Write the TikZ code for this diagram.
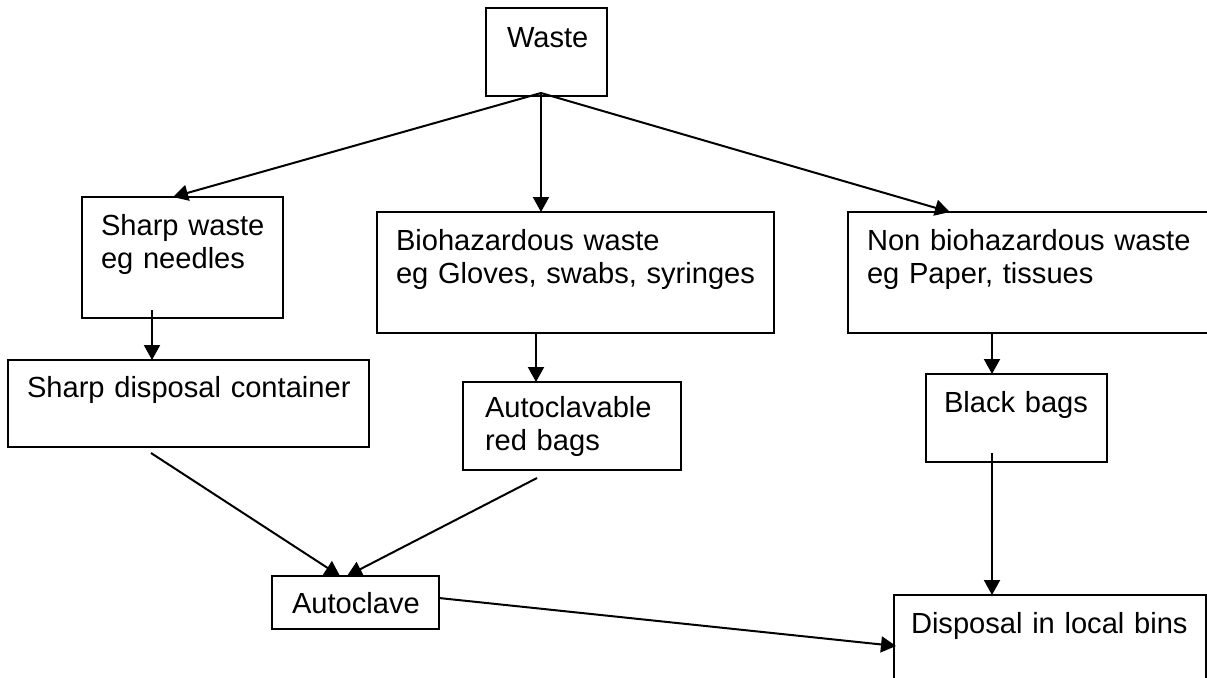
\documentclass[tikz,border=0pt]{standalone}
\usepackage{fontspec}
\setmainfont{Liberation Sans}
\usetikzlibrary{arrows.meta,fit,calc}
\tikzset{
  box/.style={draw, line width=1pt, rectangle, inner sep=0pt, outer sep=0pt},
  lbl/.style={anchor=base west, inner sep=0pt, outer sep=0pt, text width=200pt, align=left,
    font=\fontsize{14.55pt}{16.5pt}\selectfont},
  arr/.style={line width=1pt, -{Triangle[length=7.5pt,width=8pt]}},
}
\begin{document}
\begin{tikzpicture}[x=0.5pt,y=-0.5pt]
\clip (0,0) rectangle (1207,677);

% boxes
\node[box, fit={(486,8) (607,96)}]     (waste)     {};
\node[box, fit={(82,197) (283,318)}]   (sharp)     {};
\node[box, fit={(377,212) (774,333)}]  (bio)       {};
\node[box, fit={(848,212) (1220,333)}] (nonbio)    {};
\node[box, fit={(8,360) (369,447)}]    (sharpdisp) {};
\node[box, fit={(463,382) (681,470)}]  (redbags)   {};
\node[box, fit={(926,374) (1107,462)}] (blackbags) {};
\node[box, fit={(272,576) (439,629)}]  (autoclave) {};
\node[box, fit={(894,595) (1206,700)}] (disposal)  {};

% texts
\node[lbl] (waste-t)     at (507,47)  {Waste};
\node[lbl] (sharp-t)     at (101,235) {Sharp waste\\eg needles};
\node[lbl] (bio-t)       at (396,250) {Biohazardous waste\\eg Gloves, swabs, syringes};
\node[lbl] (nonbio-t)    at (867,250) {Non biohazardous waste\\eg Paper, tissues};
\node[lbl] (sharpdisp-t) at (27,397)  {Sharp disposal container};
\node[lbl] (redbags-t)   at (485,417) {Autoclavable\\red bags};
\node[lbl] (blackbags-t) at (944,412) {Black bags};
\node[lbl] (autoclave-t) at (292,613) {Autoclave};
\node[lbl] (disposal-t)  at (911,633) {Disposal in local bins};

% connectors
\coordinate (waste-out) at ($(waste.south west)+(55,-3)$);
\draw[arr] (waste-out) -- ($(sharp.north west)+(91,0)$);
\draw[arr] (waste-out) -- ($(bio.north west)+(164,0)$);
\draw[arr] (waste-out) -- ($(nonbio.north west)+(102,0)$);
\draw[arr] ($(sharp.south west)+(70,-8)$) -- ($(sharpdisp.north west)+(144,0)$);
\draw[arr] ($(bio.south west)+(159,0)$) -- ($(redbags.north west)+(73,0)$);
\draw[arr] ($(nonbio.south west)+(144,0)$) -- ($(blackbags.north west)+(66,0)$);
\draw[arr] ($(sharpdisp.south west)+(143,6)$) -- ($(autoclave.north west)+(68,0)$);
\draw[arr] ($(redbags.south west)+(74,8)$) -- ($(autoclave.north west)+(75,0)$);
\draw[arr] ($(blackbags.south west)+(66,-9)$) -- ($(disposal.north west)+(98,0)$);
\draw[arr] ($(autoclave.south east)+(0,-31)$) -- ($(disposal.north west)+(2,51)$);
\end{tikzpicture}
\end{document}
